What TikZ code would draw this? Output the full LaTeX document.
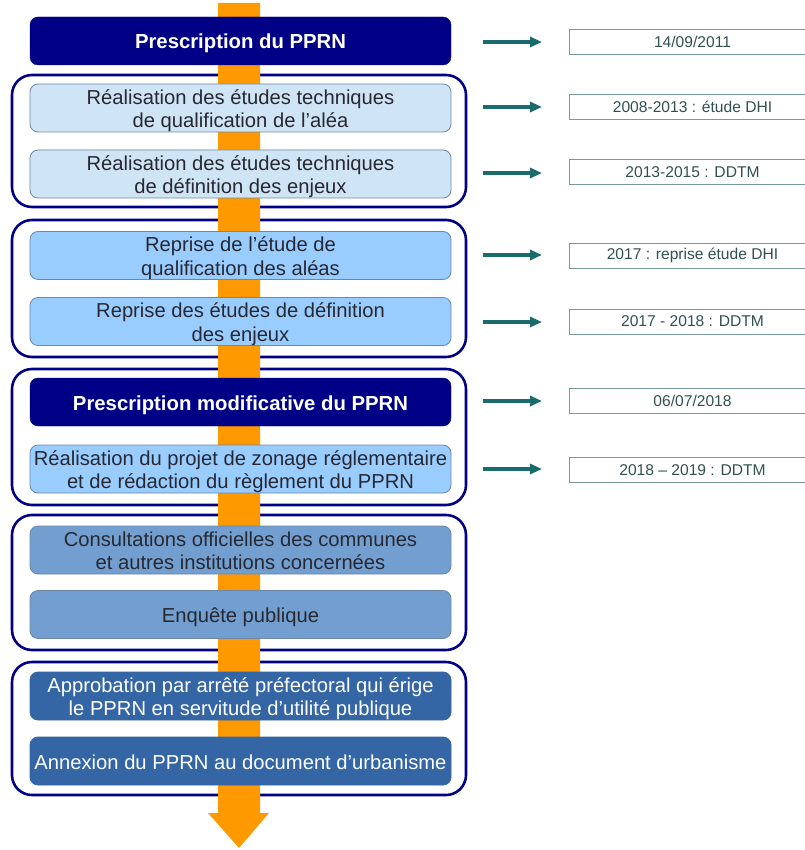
\documentclass[tikz,border=0pt]{standalone}
\usepackage{fontspec}
\setmainfont{Liberation Sans}
\usetikzlibrary{arrows.meta}
\definecolor{navy}{RGB}{0,0,135}
\definecolor{lb1}{RGB}{207,229,245}
\definecolor{lb2}{RGB}{153,204,255}
\definecolor{lb4}{RGB}{114,159,207}
\definecolor{lb5}{RGB}{52,101,164}
\definecolor{orng}{RGB}{255,153,0}
\definecolor{tealarr}{RGB}{26,107,107}
\definecolor{dateborder}{RGB}{120,155,155}
\definecolor{datetext}{RGB}{50,80,80}
\definecolor{boxborder}{RGB}{110,134,166}
\definecolor{boxtext}{RGB}{40,40,50}
\newcommand{\topst}{\rule{0pt}{22pt}}
\newcommand{\botst}{\rule[-6pt]{0pt}{6pt}}
\tikzset{
  grp/.style={draw=navy, line width=2.6pt, rounded corners=20pt, minimum width=454pt, inner sep=0pt},
  boxbase/.style={rounded corners=8pt, minimum width=421pt, minimum height=48pt, inner xsep=0pt, inner ysep=-3pt, align=center},
  darkbox/.style={boxbase, fill=navy, draw=navy, text=white, font=\fontsize{20.3}{23.5}\selectfont\bfseries},
  stepbox/.style={boxbase, draw=boxborder, line width=0.8pt, font=\fontsize{20.2}{23.5}\selectfont},
  datebox/.style={draw=dateborder, line width=1pt, minimum width=246pt, minimum height=25pt, inner sep=0pt, text=datetext, font=\fontsize{15.6}{17}\selectfont, anchor=west},
  tarrow/.style={draw=tealarr, line width=3.6pt, -{Triangle[length=12pt,width=10pt]}}
}
\begin{document}
\begin{tikzpicture}[x=1pt,y=-1pt]
\useasboundingbox[fill=white] (0,0) rectangle (804,850);
% groups
\node[grp, minimum height=132pt] (g1) at (239,141) {};
\node[grp, minimum height=137pt] (g2) at (239,288.5) {};
\node[grp, minimum height=136pt] (g3) at (239,437) {};
\node[grp, minimum height=135pt] (g4) at (239,582.5) {};
\node[grp, minimum height=133pt] (g5) at (239,728.5) {};
% orange flow arrow
\fill[orng] (218,3) -- (260,3) -- (260,813) -- (269,813) -- (239,848) -- (208,813) -- (218,813) -- cycle;
% boxes
\node[darkbox] (b0) at (240.5,41) {\topst Prescription du PPRN\botst};
\node[stepbox, fill=lb1, text=boxtext] (b1a) at (240.5,108) {\topst Réalisation des études techniques\\de qualification de l’aléa\botst};
\node[stepbox, fill=lb1, text=boxtext] (b1b) at (240.5,174) {\topst Réalisation des études techniques\\de définition des enjeux\botst};
\node[stepbox, fill=lb2, text=boxtext] (b2a) at (240.5,255.5) {\topst Reprise de l'étude de\\qualification des aléas\botst};
\node[stepbox, fill=lb2, text=boxtext] (b2b) at (240.5,321.5) {\topst Reprise des études de définition\\des enjeux\botst};
\node[darkbox] (b3a) at (240.5,402) {\topst Prescription modificative du PPRN\botst};
\node[stepbox, fill=lb2, text=boxtext] (b3b) at (240.5,469) {\topst Réalisation du projet de zonage réglementaire\\et de rédaction du règlement du PPRN\botst};
\node[stepbox, fill=lb4, text=boxtext] (b4a) at (240.5,550) {\topst Consultations officielles des communes\\et autres institutions concernées\botst};
\node[stepbox, fill=lb4, text=boxtext] (b4b) at (240.5,614.5) {\topst Enquête publique\botst};
\node[stepbox, fill=lb5, draw=lb5, text=white] (b5a) at (240.5,696) {\topst Approbation par arrêté préfectoral qui érige\\le PPRN en servitude d’utilité publique\botst};
\node[stepbox, fill=lb5, draw=lb5, text=white] (b5b) at (240.5,761) {\topst Annexion du PPRN au document d’urbanisme\botst};
% dates
\node[datebox] (d1) at (569,42) {14/09/2011};
\node[datebox] (d2) at (569,107) {2008-2013 : étude DHI};
\node[datebox] (d3) at (569,172.5) {2013-2015 : DDTM};
\node[datebox] (d4) at (569,255.5) {2017 : reprise étude DHI};
\node[datebox] (d5) at (569,321.5) {2017 - 2018 : DDTM};
\node[datebox] (d6) at (569,400.5) {06/07/2018};
\node[datebox] (d7) at (569,470) {2018 – 2019 : DDTM};
% arrows
\coordinate (s1) at (483,42);  \coordinate (e1) at (542,42);
\coordinate (s2) at (483,107); \coordinate (e2) at (542,107);
\coordinate (s3) at (483,173); \coordinate (e3) at (542,173);
\coordinate (s4) at (483,255); \coordinate (e4) at (542,255);
\coordinate (s5) at (483,322); \coordinate (e5) at (542,322);
\coordinate (s6) at (483,401); \coordinate (e6) at (542,401);
\coordinate (s7) at (483,469); \coordinate (e7) at (542,469);
\foreach \i in {1,...,7} {\draw[tarrow] (s\i) -- (e\i);}
\end{tikzpicture}
\end{document}
